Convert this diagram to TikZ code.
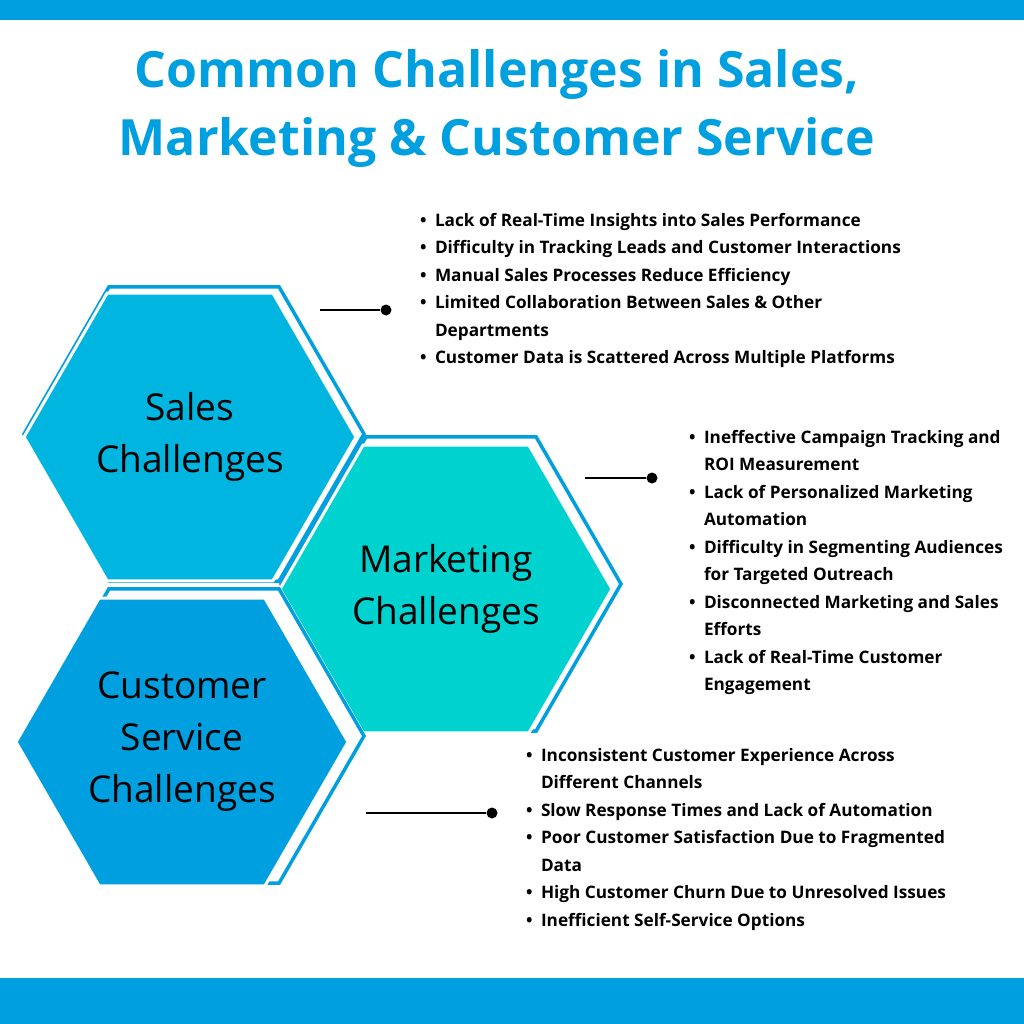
\documentclass[tikz,border=0pt]{standalone}
\usepackage{fontspec}
\setmainfont{Open Sans}
\usetikzlibrary{shapes.geometric}
\definecolor{barblue}{HTML}{009FDF}
\definecolor{salesfill}{HTML}{00B6E0}
\definecolor{mktfill}{HTML}{00D2D0}
\definecolor{csfill}{HTML}{009FDF}
\tikzset{
  hexfill/.style={regular polygon,regular polygon sides=6,minimum size=332pt,inner sep=0pt,
    draw=white,line width=3pt,align=center,font=\fontsize{37}{52}\selectfont},
  hexline/.style={regular polygon,regular polygon sides=6,minimum size=340pt,inner sep=0pt,
    draw=barblue,line width=3.5pt},
  bullets/.style={anchor=north west,align=left,inner sep=0pt,
    font=\bfseries\fontsize{17.2}{27.5}\selectfont},
  dot/.style={circle,fill=black,inner sep=0pt,minimum size=11pt}
}
\newcommand{\bl}{\makebox[15pt][l]{\textbullet}}
\newcommand{\cont}{\hspace*{15pt}}
\begin{document}
\begin{tikzpicture}[x=1pt,y=-1pt,line width=2pt]
  \useasboundingbox (0,0) rectangle (1024,1024);
  \fill[barblue] (0,0) rectangle (1024,20);
  \fill[barblue] (0,978) rectangle (1024,1024);

  \node (title) at (497,109) [text=barblue,align=center,font=\bfseries\fontsize{50}{68}\selectfont]
    {Common Challenges in Sales,\\Marketing \& Customer Service};

  % hexagons
  \node[hexline] (salesout) at (194,434) {};
  \node[hexfill,fill=salesfill] (sales) at (190,437) {Sales\\Challenges};
  \node[hexline] (mktout) at (451,584) {};
  \node[hexfill,fill=mktfill] (mkt) at (446,589) {Marketing\\Challenges};
  \node[hexline] (csout) at (194,736) {};
  \node[hexfill,fill=csfill] (cs) at (182,742) {Customer\\Service\\Challenges};

  % lists
  \node[bullets] (saleslist) at (419,212) {\bl Lack of Real-Time Insights into Sales Performance\\
    \bl Difficulty in Tracking Leads and Customer Interactions\\
    \bl Manual Sales Processes Reduce Efficiency\\
    \bl Limited Collaboration Between Sales \& Other\\
    \cont Departments\\
    \bl Customer Data is Scattered Across Multiple Platforms};
  \node[bullets] (mktlist) at (688,429) {\bl Ineffective Campaign Tracking and\\
    \cont ROI Measurement\\
    \bl Lack of Personalized Marketing\\
    \cont Automation\\
    \bl Difficulty in Segmenting Audiences\\
    \cont for Targeted Outreach\\
    \bl Disconnected Marketing and Sales\\
    \cont Efforts\\
    \bl Lack of Real-Time Customer\\
    \cont Engagement};
  \node[bullets] (cslist) at (525,747) {\bl Inconsistent Customer Experience Across\\
    \cont Different Channels\\
    \bl Slow Response Times and Lack of Automation\\
    \bl Poor Customer Satisfaction Due to Fragmented\\
    \cont Data\\
    \bl High Customer Churn Due to Unresolved Issues\\
    \bl Inefficient Self-Service Options};

  % connectors
  \node[dot] (salesdot) at (386,310) {};
  \coordinate (salesend) at (320,310);
  \draw (salesend) -- (salesdot);
  \node[dot] (mktdot) at (652,478) {};
  \coordinate (mktend) at (585,478);
  \draw (mktend) -- (mktdot);
  \node[dot] (csdot) at (492,813) {};
  \coordinate (csend) at (366,813);
  \draw (csend) -- (csdot);
\end{tikzpicture}
\end{document}
